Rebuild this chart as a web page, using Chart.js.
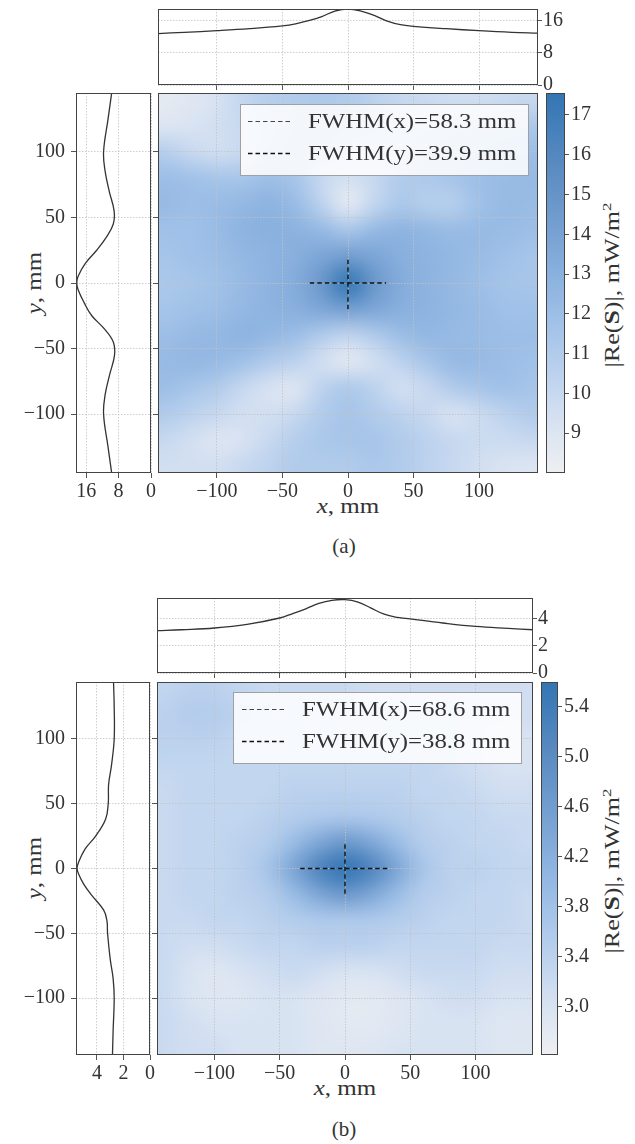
<!DOCTYPE html>
<html>
<head>
<meta charset="utf-8">
<script src="https://cdn.jsdelivr.net/npm/chart.js@4.4.1/dist/chart.umd.min.js"></script>
<style>
  body { margin: 0; background: #fff; width: 635px; height: 1144px; position: relative; overflow: hidden; font-family: 'Liberation Serif', serif; color: #333; }
  canvas { position: absolute; }
  .lbl { position: absolute; font-size: 20px; line-height: 20px; white-space: nowrap; }
  .lbl sup { font-size: 13px; line-height: 0; vertical-align: 8px; }
</style>
</head>
<body>
<div class="lbl" style="left:34px;top:283px;transform:translate(-50%,-50%) rotate(-90deg) scaleX(1.25)"><i>y</i>, mm</div>
<div class="lbl" style="left:348px;top:496px;transform:translateX(-50%) scaleX(1.25)"><i>x</i>, mm</div>
<div class="lbl" style="left:612px;top:285px;transform:translate(-50%,-50%) rotate(-90deg) scaleX(1.3)">|Re(<b>S</b>)|, mW/m<sup>2</sup></div>
<div class="lbl" style="left:344px;top:536px;font-size:21px;line-height:21px;transform:translateX(-50%)">(a)</div>

<div class="lbl" style="left:34px;top:868px;transform:translate(-50%,-50%) rotate(-90deg) scaleX(1.25)"><i>y</i>, mm</div>
<div class="lbl" style="left:345px;top:1078px;transform:translateX(-50%) scaleX(1.25)"><i>x</i>, mm</div>
<div class="lbl" style="left:612px;top:871px;transform:translate(-50%,-50%) rotate(-90deg) scaleX(1.3)">|Re(<b>S</b>)|, mW/m<sup>2</sup></div>
<div class="lbl" style="left:344px;top:1119px;font-size:21px;line-height:21px;transform:translateX(-50%)">(b)</div>

<script>
// sample positions of the measured field, mm
const fieldX = [-140, -120, -100, -80, -60, -40, -20, 0, 20, 40, 60, 80, 100, 120, 140];
const fieldY = [140, 120, 100, 80, 60, 40, 20, 0, -20, -40, -60, -80, -100, -120, -140];

// |Re(S)|, mW/m^2, rows from y=140 down to y=-140
const fieldA = [
  [8.5, 8.8, 9.3, 10.2, 10.8, 11.0, 11.2, 11.0, 10.5, 10.0, 9.8, 9.6, 9.6, 9.8, 10.0],
  [9.0, 9.2, 9.5, 10.0, 10.6, 11.0, 11.2, 11.0, 10.8, 10.6, 10.6, 10.8, 11.0, 11.2, 11.3],
  [10.8, 10.0, 9.6, 10.0, 10.8, 11.2, 11.0, 10.5, 10.2, 10.5, 11.0, 11.3, 11.5, 11.8, 12.0],
  [12.0, 11.8, 11.5, 11.5, 12.0, 11.5, 10.0, 9.4, 10.0, 11.0, 11.2, 11.5, 12.0, 12.2, 12.3],
  [12.3, 12.0, 12.2, 12.5, 12.8, 12.2, 10.5, 8.6, 10.2, 11.3, 10.8, 10.8, 11.8, 12.3, 12.2],
  [11.8, 11.8, 12.2, 12.8, 13.0, 12.9, 12.4, 11.5, 12.4, 12.8, 12.5, 12.2, 12.3, 12.2, 12.0],
  [11.5, 11.8, 12.0, 12.5, 12.8, 13.1, 13.8, 14.4, 13.8, 13.1, 12.8, 12.5, 12.2, 11.8, 11.5],
  [11.3, 11.5, 11.8, 12.3, 12.8, 13.3, 14.8, 17.5, 14.8, 13.3, 12.8, 12.4, 12.0, 11.6, 11.5],
  [11.5, 11.8, 12.0, 12.5, 12.8, 13.1, 13.7, 14.2, 13.7, 13.1, 12.8, 12.5, 12.2, 11.8, 11.8],
  [12.0, 12.3, 12.5, 12.8, 12.5, 12.0, 11.0, 10.3, 11.0, 12.0, 12.5, 12.3, 12.2, 12.0, 12.0],
  [12.3, 12.5, 12.3, 11.8, 11.0, 10.5, 9.5, 8.7, 9.5, 10.5, 11.5, 12.3, 12.3, 12.0, 11.8],
  [12.0, 11.5, 11.0, 10.0, 9.3, 9.0, 10.5, 11.2, 10.5, 9.5, 10.0, 11.0, 11.5, 11.8, 11.5],
  [11.0, 10.5, 10.0, 9.5, 9.5, 10.0, 11.0, 11.5, 11.0, 10.5, 10.0, 9.3, 9.8, 10.5, 11.0],
  [10.0, 9.5, 9.0, 9.3, 10.0, 10.8, 11.3, 11.5, 11.5, 11.0, 10.5, 10.0, 9.8, 9.8, 10.0],
  [9.5, 9.5, 9.5, 10.0, 10.5, 11.0, 11.0, 11.0, 11.3, 11.0, 10.5, 10.0, 9.5, 9.2, 9.0]
];
const fieldB = [
  [3.3, 3.4, 3.4, 3.3, 3.2, 3.2, 3.2, 3.2, 3.1, 3.1, 3.1, 3.1, 3.1, 3.1, 3.1],
  [3.4, 3.5, 3.5, 3.4, 3.3, 3.3, 3.3, 3.2, 3.2, 3.2, 3.2, 3.2, 3.1, 3.1, 3.1],
  [3.4, 3.4, 3.4, 3.3, 3.3, 3.3, 3.3, 3.3, 3.3, 3.2, 3.2, 3.2, 3.1, 3.0, 3.0],
  [3.3, 3.3, 3.3, 3.3, 3.3, 3.3, 3.3, 3.3, 3.3, 3.3, 3.3, 3.2, 3.1, 3.0, 3.0],
  [3.2, 3.3, 3.3, 3.3, 3.3, 3.4, 3.4, 3.4, 3.4, 3.4, 3.3, 3.3, 3.2, 3.1, 3.1],
  [3.2, 3.3, 3.3, 3.3, 3.4, 3.5, 3.6, 3.65, 3.6, 3.5, 3.4, 3.3, 3.3, 3.2, 3.2],
  [3.2, 3.3, 3.3, 3.4, 3.5, 3.9, 4.4, 4.7, 4.4, 3.9, 3.5, 3.4, 3.3, 3.3, 3.2],
  [3.2, 3.3, 3.3, 3.4, 3.7, 4.4, 5.2, 5.6, 5.2, 4.4, 3.7, 3.4, 3.4, 3.3, 3.3],
  [3.2, 3.3, 3.3, 3.4, 3.5, 3.9, 4.4, 4.7, 4.4, 3.9, 3.5, 3.4, 3.3, 3.3, 3.2],
  [3.2, 3.2, 3.3, 3.3, 3.4, 3.5, 3.6, 3.6, 3.6, 3.5, 3.4, 3.3, 3.3, 3.3, 3.2],
  [3.2, 3.1, 3.1, 3.2, 3.3, 3.3, 3.4, 3.4, 3.4, 3.3, 3.3, 3.3, 3.3, 3.2, 3.2],
  [3.2, 3.0, 2.9, 3.0, 3.1, 3.2, 3.1, 3.0, 3.0, 3.1, 3.2, 3.2, 3.2, 3.1, 3.1],
  [3.2, 3.0, 2.9, 2.9, 3.0, 3.0, 2.9, 2.8, 2.8, 2.9, 3.0, 3.1, 3.1, 3.0, 3.0],
  [3.2, 3.1, 3.0, 3.0, 3.0, 3.0, 2.9, 2.8, 2.8, 2.9, 3.0, 3.0, 3.0, 2.9, 2.9],
  [3.2, 3.1, 3.1, 3.0, 3.0, 3.0, 2.9, 2.9, 2.9, 3.0, 3.0, 3.0, 3.0, 2.9, 2.9]
];

// marginal profiles
const topXA = [-145, -125, -100, -75, -50, -40, -30, -20, -10, 0, 10, 20, 30, 40, 50, 75, 100, 125, 145];
const topValsA = [12.8, 13.1, 13.5, 14.0, 14.7, 15.2, 16.0, 17.0, 18.4, 18.9, 18.4, 17.3, 15.9, 15.0, 14.6, 14.0, 13.5, 13.1, 12.9];
const leftYA = [145, 125, 100, 85, 70, 55, 45, 35, 25, 15, 5, 0, -5, -15, -25, -35, -45, -55, -70, -85, -100, -125, -145];
const leftValsA = [9.7, 10.6, 11.7, 11.3, 10.3, 9.1, 9.3, 11.0, 13.4, 16.2, 18.0, 18.3, 18.0, 16.5, 14.6, 11.5, 9.3, 9.0, 10.2, 11.3, 11.7, 10.6, 9.7];

const topXB = [-144, -125, -100, -75, -50, -40, -30, -20, -10, 0, 10, 20, 30, 40, 50, 75, 100, 125, 144];
const topValsB = [3.13, 3.2, 3.33, 3.6, 4.07, 4.4, 4.75, 5.15, 5.38, 5.43, 5.25, 4.8, 4.35, 4.12, 4.0, 3.7, 3.45, 3.3, 3.2];
const leftYB = [144, 125, 100, 80, 65, 50, 38, 25, 15, 5, 0, -5, -12, -20, -32, -40, -50, -70, -85, -100, -125, -144];
const leftValsB = [2.75, 2.7, 2.7, 2.9, 3.12, 3.15, 3.35, 4.1, 4.9, 5.38, 5.5, 5.35, 5.0, 4.45, 3.5, 3.25, 3.2, 3.0, 2.78, 2.7, 2.78, 2.83];

// FWHM (x, y), mm
const fwhmA = [58.3, 39.9];
const fwhmB = [68.6, 38.8];

// axis ranges and ticks
const extentA = [-145, 145];
const extentB = [-144, 144];
const topRangeA = [0, 18.9];
const leftRangeA = [0, 18.5];
const topRangeB = [0, 5.55];
const leftRangeB = [0, 5.58];
const colorRangeA = [8.0, 17.55];
const colorRangeB = [2.61, 5.6];
const posTicks = [-100, -50, 0, 50, 100];
const profTicksA = [0, 8, 16];
const profTicksB = [0, 2, 4];
const colorTicksA = [9, 10, 11, 12, 13, 14, 15, 16, 17];
const colorTickLabelsB = ['3.0', '3.4', '3.8', '4.2', '4.6', '5.0', '5.4'];

// colormap, light grey to steel blue
const cmapStops = [
  [0.0, 238, 239, 242],
  [0.12, 218, 228, 242],
  [0.25, 190, 211, 238],
  [0.4, 160, 193, 232],
  [0.55, 133, 173, 220],
  [0.7, 108, 152, 203],
  [0.85, 82, 134, 190],
  [1.0, 50, 118, 180]
];

function cmap(t) {
  t = Math.max(0, Math.min(1, t));
  for (let i = 1; i < cmapStops.length; i++) {
    const b = cmapStops[i];
    if (t <= b[0]) {
      const a = cmapStops[i - 1];
      const f = (t - a[0]) / (b[0] - a[0]);
      return [1, 2, 3].map(k => Math.round(a[k] + (b[k] - a[k]) * f));
    }
  }
  return cmapStops[cmapStops.length - 1].slice(1);
}

Chart.defaults.font.family = "'Liberation Serif', serif";
Chart.defaults.font.size = 20;
Chart.defaults.color = '#333';

const minus = v => String(v).replace('-', '\u2212');

function axis(o) {
  return {
    type: 'linear',
    position: o.pos,
    min: o.min,
    max: o.max,
    reverse: !!o.reverse,
    afterBuildTicks: s => { s.ticks = o.ticks.map(v => ({ value: v })); },
    afterFit: s => {
      if (s.isHorizontal()) s.height = o.size; else s.width = o.size;
      s.paddingLeft = s.paddingRight = s.paddingTop = s.paddingBottom = 0;
    },
    grid: {
      color: '#c2c2c2', lineWidth: 0.8, drawOnChartArea: o.grid !== false,
      tickColor: '#555', tickLength: o.tl || 5, tickWidth: 1
    },
    border: { display: false, dash: [1.5, 1.5] },
    ticks: {
      display: o.labels !== false,
      padding: o.pad !== undefined ? o.pad : 2,
      color: '#333',
      font: { size: 20 },
      maxRotation: 0,
      autoSkip: false,
      callback: o.fmt || minus
    }
  };
}

function opts(pad, scales) {
  return {
    responsive: false, animation: false, events: [],
    layout: { padding: pad },
    plugins: { legend: { display: false }, tooltip: { enabled: false } },
    scales
  };
}

function mk(box, m) {
  const c = document.createElement('canvas');
  c.width = box[2] - box[0] + m[0] + m[2];
  c.height = box[3] - box[1] + m[1] + m[3];
  c.style.left = (box[0] - m[0]) + 'px';
  c.style.top = (box[1] - m[1]) + 'px';
  document.body.appendChild(c);
  return c;
}

const frame = {
  id: 'frame',
  afterDraw(chart) {
    const { ctx, chartArea: a } = chart;
    ctx.save();
    ctx.strokeStyle = '#444';
    ctx.lineWidth = 1;
    ctx.strokeRect(a.left + 0.5, a.top + 0.5, a.width - 1, a.height - 1);
    ctx.restore();
  }
};

function heat(z, range) {
  return {
    id: 'heat',
    beforeDraw(chart) {
      const { ctx, chartArea: a, scales: { x, y } } = chart;
      const nx = fieldX.length, ny = fieldY.length;
      const off = document.createElement('canvas');
      off.width = nx; off.height = ny;
      const octx = off.getContext('2d');
      const img = octx.createImageData(nx, ny);
      for (let j = 0; j < ny; j++) {
        for (let i = 0; i < nx; i++) {
          const c = cmap((z[j][i] - range[0]) / (range[1] - range[0]));
          const k = 4 * (j * nx + i);
          img.data[k] = c[0]; img.data[k + 1] = c[1]; img.data[k + 2] = c[2]; img.data[k + 3] = 255;
        }
      }
      octx.putImageData(img, 0, 0);
      const hx = (fieldX[1] - fieldX[0]) / 2, hy = (fieldY[0] - fieldY[1]) / 2;
      const x0 = x.getPixelForValue(fieldX[0] - hx), x1 = x.getPixelForValue(fieldX[nx - 1] + hx);
      const y0 = y.getPixelForValue(fieldY[0] + hy), y1 = y.getPixelForValue(fieldY[ny - 1] - hy);
      ctx.save();
      ctx.beginPath();
      ctx.rect(a.left, a.top, a.width, a.height);
      ctx.clip();
      ctx.imageSmoothingEnabled = true;
      ctx.imageSmoothingQuality = 'high';
      ctx.drawImage(off, x0, y0, x1 - x0, y1 - y0);
      ctx.restore();
    }
  };
}

function fwhmLegend(fwhm, L) {
  return {
    id: 'fwhmLegend',
    afterDraw(chart) {
      const { ctx, chartArea: a } = chart;
      ctx.save();
      ctx.fillStyle = 'rgba(255,255,255,0.85)';
      ctx.strokeStyle = '#a0a0a0';
      ctx.lineWidth = 1;
      ctx.fillRect(a.left + L.x, a.top + L.y, L.w, L.h);
      ctx.strokeRect(a.left + L.x + 0.5, a.top + L.y + 0.5, L.w, L.h);
      const labels = ['FWHM(x)=' + fwhm[0] + ' mm', 'FWHM(y)=' + fwhm[1] + ' mm'];
      labels.forEach((t, i) => {
        const yy = Math.round(a.top + L.rows[i]) + 0.5;
        ctx.setLineDash([4.5, 3]);
        ctx.strokeStyle = i === 0 ? '#444' : '#111';
        ctx.lineWidth = i === 0 ? 1.1 : 1.4;
        ctx.beginPath();
        ctx.moveTo(a.left + L.s0, yy);
        ctx.lineTo(a.left + L.s1, yy);
        ctx.stroke();
        ctx.setLineDash([]);
        ctx.save();
        ctx.translate(a.left + L.tx, yy);
        ctx.scale(1.24, 1);
        ctx.fillStyle = '#333';
        ctx.font = "20px 'Liberation Serif'";
        ctx.textBaseline = 'middle';
        ctx.fillText(t, 0, 1);
        ctx.restore();
      });
      ctx.restore();
    }
  };
}

function cbar(range) {
  return {
    id: 'cbar',
    beforeDraw(chart) {
      const { ctx, chartArea: a, scales: { y } } = chart;
      const g = ctx.createLinearGradient(0, y.getPixelForValue(range[0]), 0, y.getPixelForValue(range[1]));
      for (let k = 0; k <= 20; k++) {
        const c = cmap(k / 20);
        g.addColorStop(k / 20, 'rgb(' + c.join(',') + ')');
      }
      ctx.fillStyle = g;
      ctx.fillRect(a.left, a.top, a.width, a.height);
    }
  };
}

function profileSet(pts) {
  return { data: pts, showLine: true, borderColor: '#333', borderWidth: 1.3, pointRadius: 0, tension: 0.4 };
}

function crossSet(pts, w) {
  return { data: pts, showLine: true, borderColor: '#111', borderWidth: w, borderDash: [4.5, 3], pointRadius: 0, tension: 0 };
}

function panel(P) {
  const mTop = [2, 4, 45, 12], mLeft = [75, 2, 10, 32], mMain = [8, 2, 2, 32], mCb = [2, 12, 50, 12];

  new Chart(mk(P.box.top, mTop), {
    type: 'scatter',
    data: { datasets: [profileSet(P.topX.map((x, i) => ({ x, y: P.topVals[i] })))] },
    options: opts({ left: mTop[0], top: mTop[1] }, {
      x: axis({ pos: 'bottom', min: P.extent[0], max: P.extent[1], ticks: posTicks, labels: false, size: mTop[3] }),
      y: axis({ pos: 'right', min: P.topRange[0], max: P.topRange[1], ticks: P.profTicks, size: mTop[2], tl: 4, pad: 1 })
    }),
    plugins: [frame]
  });

  new Chart(mk(P.box.left, mLeft), {
    type: 'scatter',
    data: { datasets: [profileSet(P.leftY.map((y, i) => ({ x: P.leftVals[i], y })))] },
    options: opts({ top: mLeft[1], right: mLeft[2] }, {
      x: axis({ pos: 'bottom', min: P.leftRange[0], max: P.leftRange[1], reverse: true, ticks: P.profTicks, size: mLeft[3] }),
      y: axis({ pos: 'left', min: P.extent[0], max: P.extent[1], ticks: posTicks, size: mLeft[0], pad: 6 })
    }),
    plugins: [frame]
  });

  new Chart(mk(P.box.main, mMain), {
    type: 'scatter',
    data: {
      datasets: [
        crossSet([{ x: -P.fwhm[0] / 2, y: 0 }, { x: P.fwhm[0] / 2, y: 0 }], 1.4),
        crossSet([{ x: 0, y: -P.fwhm[1] / 2 }, { x: 0, y: P.fwhm[1] / 2 }], 1.4)
      ]
    },
    options: opts({ top: mMain[1], right: mMain[2] }, {
      x: axis({ pos: 'bottom', min: P.extent[0], max: P.extent[1], ticks: posTicks, size: mMain[3] }),
      y: axis({ pos: 'left', min: P.extent[0], max: P.extent[1], ticks: posTicks, labels: false, size: mMain[0] })
    }),
    plugins: [heat(P.field, P.colorRange), frame, fwhmLegend(P.fwhm, P.legend)]
  });

  new Chart(mk(P.box.cb, mCb), {
    type: 'scatter',
    data: { datasets: [] },
    options: opts({ left: mCb[0], top: mCb[1], bottom: mCb[3] }, {
      x: { display: false },
      y: axis({ pos: 'right', min: P.colorRange[0], max: P.colorRange[1], ticks: P.colorTicks, size: mCb[2], tl: 4, pad: 2, grid: false, fmt: P.colorFmt })
    }),
    plugins: [cbar(P.colorRange), frame]
  });
}

panel({
  box: { top: [158, 9, 538, 85], left: [76, 93, 151, 473], main: [158, 93, 538, 473], cb: [546, 93, 565, 473] },
  field: fieldA, colorRange: colorRangeA, colorTicks: colorTicksA, colorFmt: v => String(v),
  extent: extentA, topRange: topRangeA, leftRange: leftRangeA, profTicks: profTicksA,
  topX: topXA, topVals: topValsA, leftY: leftYA, leftVals: leftValsA, fwhm: fwhmA,
  legend: { x: 82, y: 11, w: 288, h: 71, s0: 90, s1: 134, tx: 150, rows: [28, 60] }
});

panel({
  box: { top: [157, 598, 533, 673], left: [76, 682, 150, 1055], main: [157, 682, 533, 1055], cb: [541, 682, 558, 1055] },
  field: fieldB, colorRange: colorRangeB, colorTicks: colorTickLabelsB.map(Number), colorFmt: v => v.toFixed(1),
  extent: extentB, topRange: topRangeB, leftRange: leftRangeB, profTicks: profTicksB,
  topX: topXB, topVals: topValsB, leftY: leftYB, leftVals: leftValsB, fwhm: fwhmB,
  legend: { x: 76, y: 10, w: 288, h: 71, s0: 85, s1: 129, tx: 145, rows: [27, 59] }
});
</script>
</body>
</html>
